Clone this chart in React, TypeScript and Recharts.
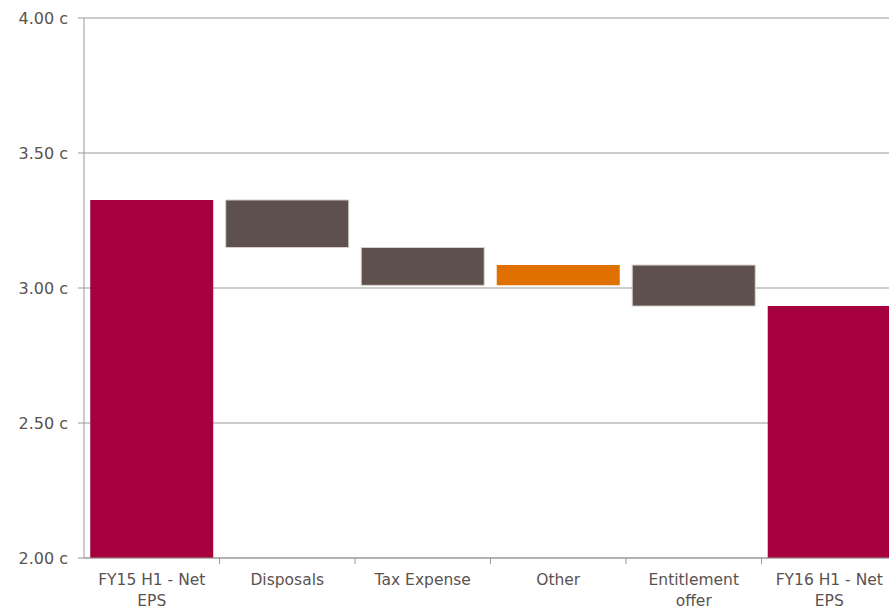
import React from 'react';
import { BarChart, Bar, XAxis, YAxis, CartesianGrid, Cell } from 'recharts';

const categories = ['FY15 H1 - Net EPS', 'Disposals', 'Tax Expense', 'Other', 'Entitlement offer', 'FY16 H1 - Net EPS'];
const labelLines = [['FY15 H1 - Net', 'EPS'], ['Disposals'], ['Tax Expense'], ['Other'], ['Entitlement', 'offer'], ['FY16 H1 - Net', 'EPS']];
const barLow = [2.0, 3.15, 3.01, 3.01, 2.933, 2.0];
const barHigh = [3.326, 3.326, 3.15, 3.085, 3.085, 2.933];
const barColors = ['#a6003f', '#5e514d', '#5e514d', '#e07000', '#5e514d', '#a6003f'];
const yTicks = [2.0, 2.5, 3.0, 3.5, 4.0];

const data = categories.map((name, i) => ({
  name,
  range: [barLow[i], barHigh[i]],
}));

const FONT = '"DejaVu Sans", sans-serif';
const TEXT = '#5a5250';
const GRID = '#999999';

const XTick = (props: any) => {
  const { x, y, index } = props;
  const lines = labelLines[index] || [];
  const half = 135.5 / 2;
  return (
    <g>
      {index > 0 && <line x1={x - half} x2={x - half} y1={y - 8} y2={y - 2} stroke={GRID} strokeWidth={1} />}
      <text x={x} y={y} textAnchor="middle" fill={TEXT} fontSize={15.5} fontFamily={FONT}>
        {lines.map((l, i) => (
          <tspan key={i} x={x} dy={i === 0 ? 19 : 21}>{l}</tspan>
        ))}
      </text>
    </g>
  );
};

export default function App() {
  return (
    <div style={{ position: 'absolute', left: 0, top: 0, width: 889, height: 609, overflow: 'hidden', background: '#fff' }}>
      <BarChart
        width={897}
        height={609}
        data={data}
        margin={{ top: 18, right: 0, left: 0, bottom: 0 }}
        barCategoryGap="4.6%"
      >
        <CartesianGrid vertical={false} stroke={GRID} strokeWidth={1} />
        <XAxis
          dataKey="name"
          height={51}
          stroke={GRID}
          tickLine={false}
          tick={<XTick />}
          interval={0}
        />
        <YAxis
          type="number"
          domain={[2, 4]}
          ticks={yTicks}
          width={84}
          stroke={GRID}
          tickSize={6}
          tickMargin={10}
          tick={{ fill: TEXT, fontSize: 16, fontFamily: FONT }}
          tickFormatter={(v: number) => v.toFixed(2) + ' c'}
          allowDataOverflow
        />
        <Bar dataKey="range" isAnimationActive={false}>
          {data.map((_, i) => (
            <Cell key={i} fill={barColors[i]} stroke={barColors[i] === '#5e514d' ? '#d6cfcc' : 'none'} strokeWidth={1} />
          ))}
        </Bar>
      </BarChart>
    </div>
  );
}
